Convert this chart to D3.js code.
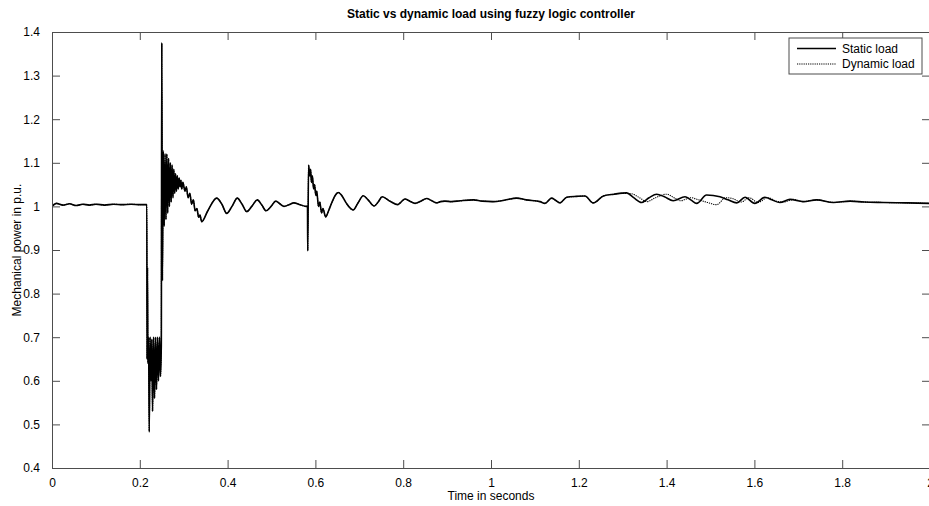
<!DOCTYPE html>
<html lang="en">
<head>
    <meta charset="UTF-8">
    <title>Static vs dynamic load using fuzzy logic controller</title>
    <style>
        body {
            margin: 0;
            background-color: #FFFFFF;
            font-family: "Liberation Sans", Arial, sans-serif;
        }
        .tick-label {
            font-size: 12px;
            fill: #000000;
        }
    </style>
</head>
<body>
    <div id="chart"></div>

    <script src="https://d3js.org/d3.v7.min.js"></script>
    <script>
        // Tick values
        const xTicks = [0, 0.2, 0.4, 0.6, 0.8, 1, 1.2, 1.4, 1.6, 1.8, 2];
        const yTicks = [0.4, 0.5, 0.6, 0.7, 0.8, 0.9, 1, 1.1, 1.2, 1.3, 1.4];

        // Part of the response where both loads overlap: [time, power]
        const sharedPart = [
            [0, 1.0], [0.01, 1.007], [0.025, 1.003], [0.04, 1.006], [0.055, 1.002],
            [0.07, 1.005], [0.085, 1.003], [0.1, 1.005], [0.12, 1.003], [0.14, 1.005],
            [0.16, 1.004], [0.18, 1.005], [0.2, 1.004], [0.216, 1.004],
            [0.2165, 0.65], [0.2175, 0.86], [0.2185, 0.64], [0.22, 0.70], [0.2215, 0.483],
            [0.2235, 0.70], [0.2255, 0.60], [0.2275, 0.695], [0.229, 0.53], [0.2315, 0.70],
            [0.2335, 0.56], [0.236, 0.70], [0.238, 0.58], [0.2405, 0.70], [0.2425, 0.60],
            [0.245, 0.70], [0.247, 0.61], [0.249, 0.68], [0.25, 1.375], [0.2515, 0.83],
            [0.2535, 1.127], [0.2555, 0.955], [0.2575, 1.12], [0.2595, 0.97], [0.2615, 1.12],
            [0.2635, 0.985], [0.2655, 1.11], [0.2675, 1.0], [0.2695, 1.10], [0.2715, 1.01],
            [0.2735, 1.095], [0.2755, 1.02], [0.2775, 1.085], [0.2795, 1.03], [0.2815, 1.075],
            [0.2835, 1.035], [0.2855, 1.07], [0.2875, 1.04], [0.2895, 1.065], [0.2915, 1.045],
            [0.2935, 1.06], [0.2955, 1.04], [0.298, 1.055], [0.303, 1.035], [0.306, 1.045],
            [0.31, 1.02], [0.314, 1.03], [0.318, 1.005], [0.322, 1.015], [0.326, 0.99],
            [0.33, 0.995], [0.334, 0.975], [0.337, 0.98], [0.341, 0.965],
            [0.355, 0.99], [0.375, 1.019], [0.387, 1.005], [0.398, 0.984], [0.41, 1.0],
            [0.422, 1.019], [0.433, 1.005], [0.4435, 0.988], [0.455, 1.0], [0.4677, 1.015],
            [0.478, 1.003], [0.4875, 0.99], [0.499, 1.0], [0.5096, 1.012], [0.519, 1.006],
            [0.5285, 1.0], [0.54, 1.004], [0.551, 1.008], [0.565, 1.004], [0.5786, 1.0],
            [0.582, 1.0], [0.5825, 0.898], [0.5845, 1.095], [0.587, 1.07], [0.589, 1.085],
            [0.591, 1.055], [0.593, 1.07], [0.596, 1.04], [0.598, 1.05], [0.601, 1.025],
            [0.603, 1.035], [0.607, 1.0], [0.61, 1.01], [0.614, 0.985], [0.617, 0.995],
            [0.6235, 0.976], [0.63, 0.99], [0.638, 1.01], [0.645, 1.025], [0.652, 1.032],
            [0.66, 1.025], [0.67, 1.008], [0.686, 0.992], [0.697, 1.008], [0.709, 1.0245],
            [0.72, 1.015], [0.734, 1.001], [0.743, 1.01], [0.752, 1.022], [0.77, 1.012],
            [0.7875, 1.004], [0.795, 1.01], [0.804, 1.017], [0.815, 1.012], [0.827, 1.007],
            [0.84, 1.012], [0.8535, 1.018], [0.865, 1.013], [0.876, 1.008], [0.885, 1.011],
            [0.895, 1.012], [0.91, 1.011], [0.93, 1.013], [0.96, 1.015], [0.98, 1.012],
            [1.005, 1.011], [1.03, 1.014], [1.0586, 1.019], [1.08, 1.015], [1.1116, 1.011],
            [1.123, 1.007], [1.138, 1.019], [1.147, 1.014], [1.157, 1.008], [1.1725, 1.021],
            [1.195, 1.023], [1.214, 1.024], [1.233, 1.008], [1.256, 1.024], [1.28, 1.028]
        ];

        // Static load after the two curves separate
        const staticTail = [
            [1.309, 1.031], [1.325, 1.02], [1.343, 1.009], [1.36, 1.02], [1.3775, 1.028],
            [1.395, 1.022], [1.415, 1.013], [1.442, 1.022], [1.455, 1.015], [1.4686, 1.007],
            [1.491, 1.026], [1.5216, 1.022], [1.54, 1.015], [1.5597, 1.008], [1.5786, 1.021],
            [1.601, 1.007], [1.624, 1.021], [1.64, 1.015], [1.658, 1.009], [1.681, 1.016],
            [1.711, 1.011], [1.742, 1.015], [1.78, 1.009], [1.818, 1.012], [1.85, 1.01],
            [1.894, 1.009], [1.95, 1.008], [2.0, 1.007]
        ];

        // Dynamic load after the two curves separate
        const dynamicTail = [
            [1.3, 1.03], [1.32, 1.029], [1.338, 1.02], [1.355, 1.011], [1.375, 1.02],
            [1.4, 1.028], [1.42, 1.018], [1.432, 1.013], [1.455, 1.02], [1.47, 1.016],
            [1.49, 1.01], [1.514, 1.004], [1.535, 1.02], [1.55, 1.018], [1.57, 1.01],
            [1.588, 1.02], [1.608, 1.009], [1.63, 1.02], [1.65, 1.012], [1.665, 1.01],
            [1.69, 1.016], [1.711, 1.011], [1.742, 1.015], [1.78, 1.009], [1.818, 1.012],
            [1.85, 1.01], [1.894, 1.009], [1.95, 1.008], [2.0, 1.007]
        ];

        const staticLoad = sharedPart.concat(staticTail);
        const dynamicLoad = sharedPart.concat(dynamicTail);

        const width = 929;
        const height = 506;
        const margin = { top: 32, right: -1, bottom: 38, left: 52 };
        const plotW = width - margin.left - margin.right;
        const plotH = height - margin.top - margin.bottom;

        const svg = d3.select("#chart")
            .append("svg")
            .attr("width", width)
            .attr("height", height);

        const x = d3.scaleLinear().domain([0, 2]).range([margin.left, margin.left + plotW]);
        const y = d3.scaleLinear().domain([0.4, 1.4]).range([margin.top + plotH, margin.top]);

        const axisColor = "#4d4d4d";
        const tickLen = 8;

        // Clip for curves
        svg.append("clipPath").attr("id", "plot-clip")
            .append("rect")
            .attr("x", margin.left).attr("y", margin.top)
            .attr("width", plotW).attr("height", plotH);

        // Curves (monotone keeps the peaks where they were read)
        const line = d3.line()
            .x(d => x(d[0]))
            .y(d => y(d[1]))
            .curve(d3.curveMonotoneX);

        const curves = svg.append("g").attr("clip-path", "url(#plot-clip)");
        curves.append("path")
            .datum(staticLoad)
            .attr("d", line)
            .attr("fill", "none")
            .attr("stroke", "#000000")
            .attr("stroke-width", 1.6)
            .attr("stroke-linejoin", "round");
        curves.append("path")
            .datum(dynamicLoad)
            .attr("d", line)
            .attr("fill", "none")
            .attr("stroke", "#000000")
            .attr("stroke-width", 1.1)
            .attr("stroke-dasharray", "1.2,1");

        // Axes: MATLAB style box with inward ticks
        const bottomAxis = d3.axisBottom(x).tickValues(xTicks).tickSizeInner(-tickLen).tickSizeOuter(0)
            .tickPadding(tickLen + 4).tickFormat(d3.format("~g"));
        const topAxis = d3.axisTop(x).tickValues(xTicks).tickSizeInner(-tickLen).tickSizeOuter(0).tickFormat("");
        const leftAxis = d3.axisLeft(y).tickValues(yTicks).tickSizeInner(-tickLen).tickSizeOuter(0)
            .tickPadding(tickLen + 4).tickFormat(d3.format("~g"));
        const rightAxis = d3.axisRight(y).tickValues(yTicks).tickSizeInner(-tickLen).tickSizeOuter(0).tickFormat("");

        const gb = svg.append("g").attr("transform", `translate(0,${margin.top + plotH})`).call(bottomAxis);
        const gt = svg.append("g").attr("transform", `translate(0,${margin.top})`).call(topAxis);
        const gl = svg.append("g").attr("transform", `translate(${margin.left},0)`).call(leftAxis);
        const gr = svg.append("g").attr("transform", `translate(${margin.left + plotW},0)`).call(rightAxis);

        [gb, gt, gl, gr].forEach(g => {
            g.selectAll(".domain").attr("stroke", axisColor);
            g.selectAll(".tick line").attr("stroke", axisColor);
            g.selectAll(".tick text")
                .attr("class", "tick-label")
                .attr("font-family", "Liberation Sans, Arial, sans-serif")
                .attr("font-size", 12);
        });
        gb.selectAll(".tick text").attr("dy", "0.6em");

        // Title and axis labels
        svg.append("text")
            .attr("x", margin.left + plotW / 2)
            .attr("y", 18)
            .attr("text-anchor", "middle")
            .attr("font-size", 12)
            .attr("font-weight", "bold")
            .text("Static vs dynamic load using fuzzy logic controller");

        svg.append("text")
            .attr("x", margin.left + plotW / 2)
            .attr("y", 500)
            .attr("text-anchor", "middle")
            .attr("font-size", 12)
            .text("Time in seconds");

        svg.append("text")
            .attr("transform", `translate(21,${margin.top + plotH / 2}) rotate(-90)`)
            .attr("text-anchor", "middle")
            .attr("font-size", 12)
            .text("Mechanical power in p.u.");

        // Legend
        const legend = svg.append("g").attr("transform", "translate(789,38)");
        legend.append("rect")
            .attr("width", 133)
            .attr("height", 36)
            .attr("fill", "#FFFFFF")
            .attr("stroke", axisColor);
        const entries = [
            { label: "Static load", width: 1.6, dash: null },
            { label: "Dynamic load", width: 1.1, dash: "1.2,1" }
        ];
        entries.forEach((e, i) => {
            const cy = 10.5 + i * 15.5;
            legend.append("line")
                .attr("x1", 8).attr("x2", 47)
                .attr("y1", cy).attr("y2", cy)
                .attr("stroke", "#000000")
                .attr("stroke-width", e.width)
                .attr("stroke-dasharray", e.dash);
            legend.append("text")
                .attr("x", 53)
                .attr("y", cy)
                .attr("dy", "0.35em")
                .attr("font-size", 12)
                .text(e.label);
        });
    </script>
</body>
</html>
